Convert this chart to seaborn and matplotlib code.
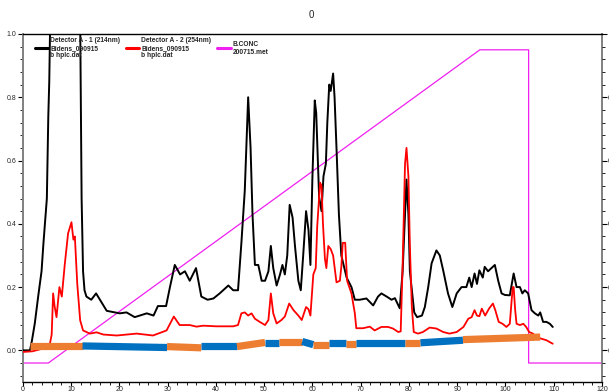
import pandas as pd
import matplotlib
matplotlib.use("Agg")
import matplotlib.pyplot as plt
import seaborn as sns
from matplotlib.ticker import AutoMinorLocator, MultipleLocator

# Detector A - 1 (214nm), black trace
t_214 = [0, 1.5, 1.9, 2.5, 3.2, 3.9, 4.3, 5.0, 5.3, 5.5, 5.7, 6.5, 11.5, 11.9, 12.0, 12.2,
         12.5, 12.8, 13.2, 14.2, 15.2, 16.0, 17.4, 20.1, 21.5, 23.2, 25.7, 27.1, 28.0, 29.7,
         30.5, 31.5, 32.6, 33.6, 34.6, 35.9, 37.0, 38.3, 39.5, 40.8, 42.6, 43.6, 44.6, 45.3,
         46.0, 46.7, 47.2, 47.6, 48.1, 48.8, 49.5, 50.2, 50.9, 51.4, 51.9, 52.6, 53.3, 53.8,
         54.3, 54.8, 55.3, 55.9, 56.4, 57.1, 57.6, 58.1, 58.7, 59.2, 59.6, 60.0, 60.5, 60.8,
         61.4, 61.9, 62.3, 62.8, 63.1, 63.5, 63.8, 64.3, 64.6, 65.0, 65.5, 66.0, 67.1, 68.1,
         68.8, 69.8, 71.2, 72.6, 73.6, 74.3, 75.4, 76.4, 77.1, 78.1, 78.7, 79.2, 79.5, 79.9,
         80.2, 81.1, 81.7, 82.7, 83.3, 84.0, 84.7, 85.7, 86.4, 87.1, 88.1, 89.0, 89.9, 90.9,
         91.9, 92.5, 93.0, 93.6, 94.1, 94.6, 95.3, 95.7, 96.4, 97.1, 97.8, 98.5, 99.2, 99.9,
         100.9, 101.7, 102.3, 103.0, 103.5, 104.0, 104.7, 105.4, 106.1, 106.8, 107.2, 107.8,
         108.5, 109.2, 109.8]
v_214 = [0.0, 0.0, 0.03, 0.085, 0.17, 0.25, 0.34, 0.48, 0.74, 0.85, 1.05, 1.6, 1.6, 1.05, 0.85, 0.48,
         0.25, 0.19, 0.17, 0.16, 0.18, 0.16, 0.125, 0.117, 0.12, 0.105, 0.117, 0.11, 0.14, 0.14,
         0.2, 0.27, 0.24, 0.25, 0.22, 0.26, 0.17, 0.16, 0.164, 0.18, 0.205, 0.19, 0.19, 0.34,
         0.505, 0.80, 0.64, 0.43, 0.27, 0.27, 0.22, 0.22, 0.25, 0.33, 0.26, 0.205, 0.24, 0.27,
         0.24, 0.30, 0.46, 0.42, 0.33, 0.22, 0.19, 0.30, 0.44, 0.38, 0.27, 0.54, 0.79, 0.75,
         0.485, 0.44, 0.55, 0.59, 0.72, 0.84, 0.82, 0.875, 0.8, 0.64, 0.43, 0.30, 0.23, 0.2,
         0.16, 0.16, 0.164, 0.142, 0.17, 0.18, 0.17, 0.16, 0.165, 0.133, 0.25, 0.43, 0.54, 0.43,
         0.25, 0.12, 0.105, 0.11, 0.137, 0.2, 0.275, 0.316, 0.3, 0.253, 0.18, 0.137, 0.18, 0.2,
         0.2, 0.23, 0.2, 0.243, 0.21, 0.253, 0.23, 0.264, 0.25, 0.26, 0.27, 0.22, 0.18, 0.175,
         0.174, 0.243, 0.2, 0.2, 0.18, 0.19, 0.18, 0.127, 0.117, 0.11, 0.12, 0.09,
         0.09, 0.084, 0.074]

# Detector A - 2 (254nm), red trace
t_254 = [0, 2, 4, 5.5, 6.0, 6.3, 6.6, 7.0, 7.6, 8.1, 8.7, 9.4, 10.1, 10.5, 10.8, 11.3, 11.9,
         12.5, 13.9, 15.3, 16.7, 19.5, 23.6, 27.0, 29.8, 31.3, 32.5, 34.6, 36.0, 37.4, 40.1,
         43.6, 44.6, 45.3, 46.0, 46.7, 47.4, 48.1, 49.1, 50.2, 50.9, 51.4, 51.9, 52.6, 53.6,
         54.3, 55.2, 56.1, 57.1, 57.8, 58.7, 59.2, 59.6, 60.2, 60.7, 61.0, 61.6, 61.9, 62.2,
         62.6, 62.9, 63.3, 63.8, 64.3, 65.0, 65.7, 66.0, 66.3, 66.8, 67.2, 68.1, 68.8, 69.1,
         70.5, 71.9, 72.9, 74.3, 75.7, 76.7, 77.8, 78.3, 78.7, 79.2, 79.5, 79.9, 80.2, 80.6,
         81.0, 81.9, 82.9, 84.3, 85.7, 87.1, 88.4, 89.9, 91.3, 92.3, 93.0, 93.6, 94.1, 94.6,
         95.1, 95.8, 96.6, 97.4, 97.9, 98.6, 99.4, 100.2, 100.9, 101.5, 101.7, 102.0, 102.3,
         103.0, 103.7, 104.3, 104.9, 105.7, 106.4, 107.4, 108.5, 109.2, 109.8]
v_254 = [-0.005, -0.003, 0.005, 0.01, 0.05, 0.18, 0.14, 0.105, 0.2, 0.17, 0.27, 0.37, 0.405, 0.35, 0.36, 0.21, 0.095,
         0.063, 0.053, 0.057, 0.05, 0.047, 0.053, 0.047, 0.063, 0.107, 0.08, 0.08, 0.075, 0.078, 0.076,
         0.076, 0.08, 0.117, 0.12, 0.11, 0.117, 0.1, 0.09, 0.08, 0.096, 0.18, 0.117, 0.085, 0.096,
         0.107, 0.148, 0.127, 0.11, 0.096, 0.137, 0.13, 0.11, 0.24, 0.26, 0.39, 0.53, 0.52, 0.40,
         0.29, 0.26, 0.33, 0.32, 0.30, 0.215, 0.22, 0.264, 0.34, 0.34, 0.22, 0.18, 0.117, 0.07,
         0.07, 0.075, 0.063, 0.074, 0.074, 0.069, 0.058, 0.06, 0.27, 0.59, 0.64, 0.55, 0.33, 0.14,
         0.058, 0.053, 0.058, 0.072, 0.069, 0.058, 0.053, 0.058, 0.074, 0.1, 0.105, 0.127, 0.11, 0.108,
         0.132, 0.11, 0.132, 0.148, 0.127, 0.09, 0.084, 0.074, 0.084, 0.2, 0.2, 0.13, 0.084,
         0.08, 0.084, 0.074, 0.058, 0.053, 0.042, 0.037, 0.032, 0.026, 0.021]

# B.CONC gradient program
t_conc = [0, 5.3, 94.7, 104.8, 104.8, 120]
v_conc = [-0.04, -0.04, 0.95, 0.95, -0.04, -0.04]

# fraction collector marks: boundaries, level at start/end of each fraction
frac_edges = [1.5, 12.4, 29.9, 37.0, 44.4, 50.2, 53.1, 57.9, 60.2, 63.5, 66.9, 69.0,
              79.1, 82.4, 91.2, 107.2]
frac_y0 = [0.014, 0.014, 0.012, 0.014, 0.012, 0.023, 0.026, 0.028, 0.018, 0.023, 0.020,
           0.023, 0.023, 0.024, 0.034]
frac_y1 = [0.014, 0.009, 0.008, 0.014, 0.025, 0.023, 0.026, 0.018, 0.018, 0.023, 0.020,
           0.023, 0.023, 0.032, 0.042]

labels = ["Detector A - 1 (214nm)\nBidens_090915\nb hplc.dat",
          "Detector A - 2 (254nm)\nBidens_090915\nb hplc.dat",
          "B.CONC\n200715.met"]

x_ticks = list(range(0, 121, 10))
y_ticks = [0.0, 0.2, 0.4, 0.6, 0.8, 1.0]


def main():
    sns.set_theme(style="white")
    plt.rcParams['font.family'] = ['Liberation Sans', 'DejaVu Sans']

    fig = plt.figure(figsize=(6.09, 3.92), dpi=100)
    ax = fig.add_axes([0.0373, 0.0255, 0.9512, 0.8878])

    df_a = pd.DataFrame({'t': t_214, 'v': v_214})
    df_b = pd.DataFrame({'t': t_254, 'v': v_254})
    df_c = pd.DataFrame({'t': t_conc, 'v': v_conc})

    sns.lineplot(data=df_a, x='t', y='v', ax=ax, color='black', lw=1.4,
                 estimator=None, sort=False, label=labels[0], zorder=3)
    sns.lineplot(data=df_b, x='t', y='v', ax=ax, color='#FF0000', lw=1.3,
                 estimator=None, sort=False, label=labels[1], zorder=3)
    sns.lineplot(data=df_c, x='t', y='v', ax=ax, color='#F020F0', lw=0.9,
                 estimator=None, sort=False, label=labels[2], zorder=2)

    # fraction bars
    for i in range(len(frac_edges) - 1):
        col = '#ED7D31' if i % 2 == 0 else '#0070C0'
        ax.plot([frac_edges[i], frac_edges[i + 1]], [frac_y0[i], frac_y1[i]],
                color=col, lw=5.2, solid_capstyle='butt', zorder=4)

    ax.set_xlim(0, 120)
    ax.set_ylim(-0.1, 1.0)
    ax.set_xticks(x_ticks)
    ax.set_yticks(y_ticks)
    ax.set_yticklabels([f"{y:.1f}" for y in y_ticks])
    ax.xaxis.set_minor_locator(AutoMinorLocator(5))
    ax.yaxis.set_minor_locator(MultipleLocator(0.04))
    ax.set_xlabel('')
    ax.set_ylabel('')

    ax.tick_params(axis='both', which='major', direction='out', length=3.5, width=0.8,
                   color='black', labelsize=5, pad=1, bottom=True, left=True)
    ax.tick_params(axis='both', which='minor', direction='out', length=2, width=0.6,
                   color='black', bottom=True, left=True)
    ax.tick_params(axis='x', which='major', length=3, pad=0)

    for side in ['top', 'bottom']:
        ax.spines[side].set_color('black')
        ax.spines[side].set_linewidth(1.0)
    ax.spines['left'].set_color('#808080')
    ax.spines['left'].set_linewidth(1.4)
    ax.spines['right'].set_color('#808080')
    ax.spines['right'].set_linewidth(1.4)

    # right axis mirrors the left scale
    ax2 = ax.twinx()
    ax2.set_ylim(-0.1, 1.0)
    ax2.set_yticks(y_ticks)
    ax2.set_yticklabels([f"{y:.1f}" for y in y_ticks])
    ax2.yaxis.set_minor_locator(MultipleLocator(0.04))
    ax2.tick_params(axis='y', which='major', direction='out', length=3.5, width=0.8,
                    color='black', labelsize=5, pad=1, right=True)
    ax2.tick_params(axis='y', which='minor', direction='out', length=2, width=0.6,
                    color='black', right=True)
    ax2.grid(False)
    for s in ax2.spines.values():
        s.set_visible(False)

    leg = ax.legend(loc='upper left', bbox_to_anchor=(0.014, 1.003), ncol=3, frameon=False,
                    prop={'size': 4.8, 'weight': 'bold'}, handlelength=2.0,
                    handletextpad=0.3, columnspacing=0.9, borderaxespad=0.2)
    for h in leg.get_lines():
        h.set_linewidth(2.2)
    for txt in leg.get_texts():
        txt.set_linespacing(1.15)
    leg.set_zorder(10)

    fig.text(0.511, 0.962, '0', ha='center', va='center', fontsize=7)

    output_filename = 'out.png'
    fig.savefig(output_filename, dpi=100)
    print(f"saved {output_filename}")


if __name__ == "__main__":
    main()
